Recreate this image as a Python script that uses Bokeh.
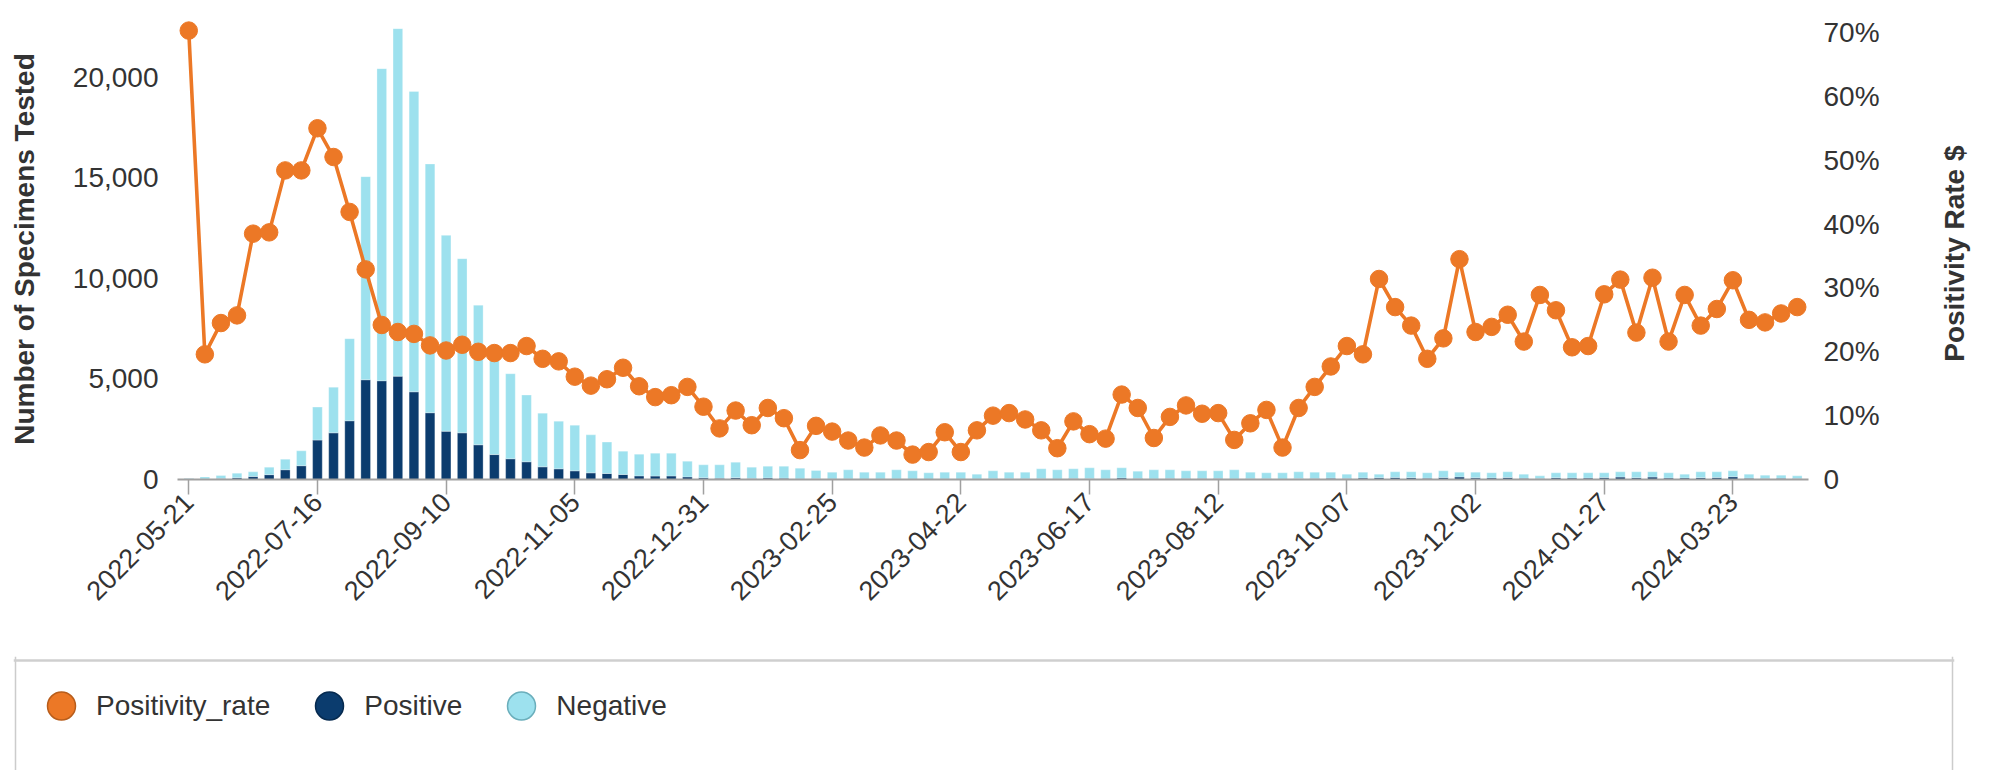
import math
import pandas as pd
from bokeh.plotting import figure
from bokeh.models import (ColumnDataSource, Range1d, LinearAxis, FixedTicker, Plot,
                          NumeralTickFormatter, Legend, LegendItem, Span, Label)
from bokeh.layouts import row, column
from bokeh.embed import file_html
from bokeh.resources import INLINE

FONT = "Liberation Sans"
ORANGE = "#ec7826"
NAVY = "#0b3c6e"
LIGHT = "#9de1ee"
TXT = "#333333"

# ---------------- data (weekly, starting 2022-05-21) ----------------
positive = [40, 28, 48, 85, 145, 240, 485, 685, 1960, 2320,
            2920, 4960, 4910, 5140, 4360, 3320, 2400, 2320, 1725, 1240,
            1030, 880, 630, 530, 430, 330, 300, 250, 180, 170,
            175, 130, 85, 58, 93, 52, 74, 63, 26, 38,
            27, 29, 18, 25, 29, 17, 14, 27, 16, 20,
            43, 38, 34, 41, 24, 48, 41, 31, 77, 46,
            31, 47, 50, 44, 45, 30, 32, 36, 17, 43,
            53, 65, 55, 72, 83, 103, 92, 63, 95, 126,
            84, 79, 98, 57, 53, 88, 69, 69, 96, 119,
            88, 120, 72, 77, 92, 102, 134, 66, 53, 56,
            49]

negative = [20, 102, 152, 230, 235, 375, 525, 740, 1640, 2270,
            4080, 10100, 15520, 17280, 14940, 12370, 9740, 8660, 6945, 5060,
            4230, 3320, 2670, 2370, 2270, 1890, 1560, 1160, 1080, 1140,
            1135, 780, 645, 672, 767, 563, 586, 597, 538, 412,
            338, 452, 347, 340, 452, 414, 318, 338, 349, 245,
            388, 327, 331, 490, 457, 483, 539, 450, 503, 369,
            450, 434, 381, 387, 386, 451, 333, 296, 315, 338,
            312, 300, 210, 293, 182, 278, 289, 269, 336, 239,
            281, 253, 283, 208, 129, 244, 263, 263, 236, 262,
            293, 261, 260, 188, 289, 279, 297, 199, 163, 160,
            133]

positivity_rate = [70.3, 19.6, 24.5, 25.7, 38.5, 38.7, 48.4, 48.4, 55.0, 50.5,
                   41.9, 32.9, 24.2, 23.1, 22.8, 21.0, 20.2, 21.1, 20.0, 19.8,
                   19.8, 20.9, 18.9, 18.5, 16.1, 14.7, 15.7, 17.5, 14.6, 12.9,
                   13.2, 14.5, 11.4, 8.0, 10.8, 8.5, 11.2, 9.6, 4.6, 8.4,
                   7.5, 6.1, 5.0, 6.9, 6.1, 3.9, 4.3, 7.4, 4.3, 7.7,
                   10.0, 10.4, 9.4, 7.7, 4.9, 9.1, 7.1, 6.4, 13.3, 11.2,
                   6.5, 9.8, 11.6, 10.3, 10.4, 6.2, 8.8, 10.9, 5.0, 11.2,
                   14.5, 17.7, 20.9, 19.6, 31.4, 27.0, 24.1, 18.9, 22.1, 34.5,
                   23.1, 23.9, 25.8, 21.6, 28.9, 26.5, 20.7, 20.9, 29.0, 31.3,
                   23.0, 31.6, 21.6, 28.9, 24.1, 26.7, 31.2, 25.0, 24.6, 26.0,
                   27.0]

tick_labels = ["2022-05-21", "2022-07-16", "2022-09-10", "2022-11-05", "2022-12-31",
               "2023-02-25", "2023-04-22", "2023-06-17", "2023-08-12", "2023-10-07",
               "2023-12-02", "2024-01-27", "2024-03-23"]

count_ticks = [0, 5000, 10000, 15000, 20000]
rate_ticks = [0, 10, 20, 30, 40, 50, 60, 70]
rate_tick_labels = ["0", "10%", "20%", "30%", "40%", "50%", "60%", "70%"]

y_title_left = "Number of Specimens Tested"
y_title_right = "Positivity Rate $"
legend_labels = ["Positivity_rate", "Positive", "Negative"]

weeks = pd.date_range("2022-05-21", periods=len(positivity_rate), freq="7D").strftime("%Y-%m-%d").tolist()
idx = list(range(len(weeks)))
tick_positions = [weeks.index(t) for t in tick_labels]

src = ColumnDataSource(dict(x=idx, week=weeks, positive=positive,
                            negative=negative, rate=positivity_rate))

TOP = 18
H_MAIN = 656

# ---------------- main chart ----------------
p = figure(width=1932, height=H_MAIN, x_range=Range1d(-0.7, 100.7), y_range=Range1d(0, 22924),
           output_backend="svg", toolbar_location=None,
           min_border_left=177, min_border_right=124, min_border_top=TOP,
           min_border_bottom=H_MAIN - 479)
p.extra_y_ranges = {"rate": Range1d(0, 72.19)}
p.outline_line_color = None
p.grid.visible = False

p.vbar_stack(["positive", "negative"], x="x", width=0.6, color=[NAVY, LIGHT],
             line_color="white", line_width=0.6, line_alpha=0.5, source=src)
p.line("x", "rate", source=src, y_range_name="rate", line_color=ORANGE, line_width=3.6)
p.scatter("x", "rate", source=src, y_range_name="rate", size=17.5,
          fill_color=ORANGE, line_color=ORANGE, line_width=1)

xa = p.xaxis[0]
xa.ticker = FixedTicker(ticks=tick_positions)
xa.major_label_overrides = dict(zip(tick_positions, tick_labels))
xa.major_label_orientation = math.pi / 4
xa.axis_line_color = "#a0a0a0"
xa.axis_line_width = 2
xa.major_tick_line_color = "#a0a0a0"
xa.major_tick_line_width = 1.5
xa.major_tick_out = 15
xa.major_tick_in = 0
xa.minor_tick_line_color = None
xa.major_label_standoff = 3
xa.major_label_text_font = FONT
xa.major_label_text_font_size = "27px"
xa.major_label_text_color = TXT

ya = p.yaxis[0]
ya.ticker = FixedTicker(ticks=count_ticks)
ya.formatter = NumeralTickFormatter(format="0,0")
ya.axis_line_color = None
ya.major_tick_line_color = None
ya.minor_tick_line_color = None
ya.major_tick_out = 0
ya.major_tick_in = 0
ya.major_label_standoff = 19
ya.major_label_text_font = FONT
ya.major_label_text_font_size = "28px"
ya.major_label_text_color = TXT
ya.axis_label = y_title_left
ya.axis_label_text_font = FONT
ya.axis_label_text_font_size = "28px"
ya.axis_label_text_font_style = "bold"
ya.axis_label_text_color = TXT
ya.axis_label_standoff = 30

ra = LinearAxis(y_range_name="rate", ticker=FixedTicker(ticks=rate_ticks),
                major_label_overrides=dict(zip(rate_ticks, rate_tick_labels)))
ra.axis_line_color = None
ra.major_tick_line_color = None
ra.minor_tick_line_color = None
ra.major_tick_out = 0
ra.major_tick_in = 0
ra.major_label_standoff = 15
ra.major_label_text_font = FONT
ra.major_label_text_font_size = "28px"
ra.major_label_text_color = TXT
p.add_layout(ra, "right")

# ---------------- right-hand axis title (reads bottom-to-top) ----------------
tfig = figure(width=44, height=H_MAIN, x_range=Range1d(0, 1), y_range=Range1d(0, 1),
              output_backend="svg", toolbar_location=None,
              x_axis_location=None, y_axis_location=None,
              min_border_left=0, min_border_right=0, min_border_top=TOP,
              min_border_bottom=H_MAIN - 479)
tfig.outline_line_color = None
tfig.grid.visible = False
tfig.add_layout(Label(x=0.5, y=0.49, text=y_title_right, angle=math.pi / 2,
                      text_align="center", text_baseline="middle",
                      text_font=FONT, text_font_size="28px", text_font_style="bold",
                      text_color=TXT))

# ---------------- legend box ----------------
LG_H = 114
lg = figure(width=1976, height=LG_H, x_range=Range1d(-2, 1939), y_range=Range1d(0, LG_H),
            output_backend="svg", toolbar_location=None,
            x_axis_location=None, y_axis_location=None,
            min_border_left=13, min_border_right=22, min_border_top=0, min_border_bottom=0)
lg.outline_line_color = None
lg.grid.visible = False
lg.extra_y_ranges = {"hidden": Range1d(-2, -1)}
lg.add_layout(Span(location=0, dimension="height", line_color="#cccccc", line_width=1.5))
lg.add_layout(Span(location=1937, dimension="height", line_color="#cccccc", line_width=1.5))
lg.add_layout(Span(location=LG_H - 4, dimension="width", line_color="#cfcfcf", line_width=2.5))

r1 = lg.scatter("x", "rate", source=src, y_range_name="hidden",
                fill_color=ORANGE, line_color="#b85d1b", line_width=1.5)
r2 = lg.scatter("x", "positive", source=src, y_range_name="hidden",
                fill_color=NAVY, line_color="#062a4f", line_width=1.5)
r3 = lg.scatter("x", "negative", source=src, y_range_name="hidden",
                fill_color=LIGHT, line_color="#6aaebb", line_width=1.5)

legend = Legend(items=[LegendItem(label=legend_labels[0], renderers=[r1]),
                       LegendItem(label=legend_labels[1], renderers=[r2]),
                       LegendItem(label=legend_labels[2], renderers=[r3])],
                location=(13, 27), orientation="horizontal",
                glyph_width=70, glyph_height=75, label_standoff=0, spacing=24,
                padding=0, margin=0, border_line_color=None, background_fill_alpha=0,
                label_text_font=FONT, label_text_font_size="28px", label_text_color=TXT)
lg.add_layout(legend)

if "frame_align" in Plot.properties():
    for f in (p, tfig, lg):
        f.frame_align = False
    html = file_html(column(row(p, tfig, spacing=0), lg, spacing=0), INLINE)
else:
    html = file_html([row(p, tfig, spacing=0), lg], INLINE)

open("out.html", "w").write(html)
